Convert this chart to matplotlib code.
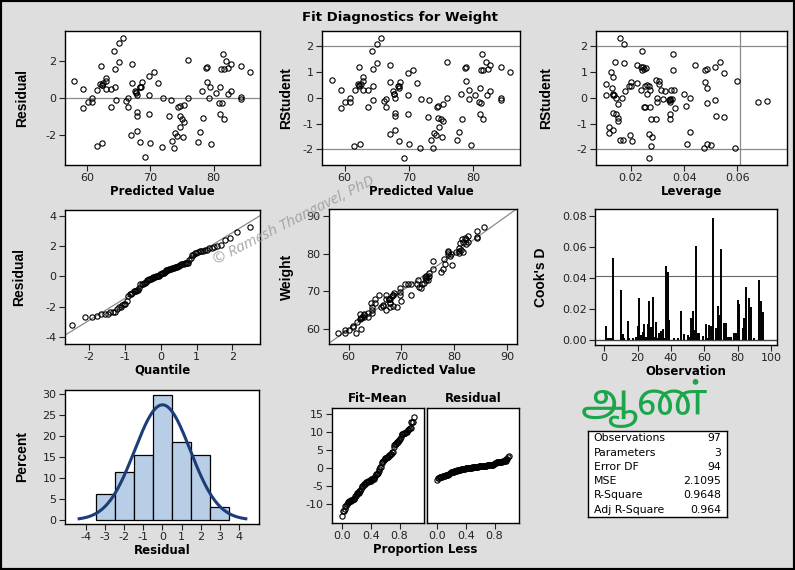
import numpy as np
import matplotlib
matplotlib.use("Agg")
import matplotlib.pyplot as plt
from matplotlib.patches import Rectangle
from statistics import NormalDist

# predicted value / residual for each of the 97 observations
pred = [58.0, 59.4, 59.4, 60.1, 60.8, 60.8, 61.6, 61.5, 62.4, 62.2,
        62.1, 62.3, 62.5, 62.9, 62.9, 62.9, 63.7, 63.7, 64.3, 64.4,
        64.4, 64.5, 65.1, 65.1, 65.7, 66.1, 66.5, 66.5, 67.1, 67.1,
        67.0, 67.6, 67.7, 67.8, 67.8, 67.8, 67.8, 68.3, 68.5, 68.6,
        68.4, 69.2, 69.8, 69.8, 69.8, 70.0, 70.6, 71.2, 71.9, 71.8,
        73.2, 73.0, 73.4, 73.7, 73.9, 74.2, 74.4, 74.6, 74.6, 74.7,
        75.0, 75.1, 75.3, 75.3, 75.9, 75.9, 77.5, 77.8, 78.1, 78.3,
        78.9, 78.9, 79.3, 79.4, 79.6, 80.3, 81.0, 81.0, 80.9, 81.3,
        81.2, 81.4, 81.6, 82.0, 82.2, 82.3, 82.7, 82.7, 84.3, 84.3,
        84.3, 85.7, 78.8, 81.6, 62.3, 67.7, 68.4]
resid = [0.92, 0.47, -0.52, -0.20, 0.02, -0.20, 0.43, -2.60, -2.46, 1.74,
         0.74, 0.70, 0.80, 1.10, 0.92, 0.47, 0.49, -0.50, 2.57, 1.60,
         0.60, -0.10, 2.97, 1.97, 3.29, -0.15, 0.02, -0.47, 1.85, 0.83,
         -2.03, 0.40, 0.25, 0.18, -0.76, -0.96, -1.80, 0.60, 0.58, 0.87,
         -2.37, -3.24, 1.21, 0.18, -0.87, -2.46, 1.43, 0.83, -0.02, -2.66,
         -0.10, -1.00, -2.33, -2.70, -1.92, -2.05, -0.50, -0.43, -1.00, -1.60,
         -1.16, -2.15, -0.36, -1.32, 2.05, 0.02, -2.37, -1.85, 0.38, -1.10,
         1.68, 0.87, -0.02, 0.58, -2.50, 0.25, 0.58, -0.89, -0.25, -0.25,
         1.57, 2.42, -1.14, 2.00, 0.22, 1.65, 1.85, 0.40, 1.74, 0.04,
         -0.05, 1.41, 1.66, 1.56, 0.72, 0.30, 0.60]

# leverage / RStudent pairs
leverage = [0.0105, 0.0105, 0.0116, 0.0116, 0.0126, 0.0131, 0.0129, 0.0132, 0.0132, 0.0131,
            0.0132, 0.0141, 0.0142, 0.0142, 0.0149, 0.0151, 0.0151, 0.0160, 0.0160, 0.0166,
            0.0170, 0.0175, 0.0175, 0.0179, 0.0191, 0.0195, 0.0199, 0.0201, 0.0204, 0.0221,
            0.0224, 0.0236, 0.0240, 0.0239, 0.0241, 0.0245, 0.0253, 0.0249, 0.0254, 0.0256,
            0.0259, 0.0259, 0.0266, 0.0266, 0.0269, 0.0271, 0.0273, 0.0274, 0.0279, 0.0276,
            0.0292, 0.0295, 0.0297, 0.0299, 0.0304, 0.0307, 0.0314, 0.0319, 0.0327, 0.0342,
            0.0345, 0.0348, 0.0347, 0.0347, 0.0352, 0.0354, 0.0358, 0.0358, 0.0360, 0.0367,
            0.0398, 0.0407, 0.0409, 0.0422, 0.0422, 0.0442, 0.0477, 0.0476, 0.0480, 0.0487,
            0.0487, 0.0485, 0.0487, 0.0502, 0.0515, 0.0515, 0.0521, 0.0536, 0.0549, 0.0549,
            0.0590, 0.0600, 0.0678, 0.0713, 0.0250, 0.0135, 0.0345]
rstudent = [0.54, 0.10, -1.13, -1.35, 0.99, 0.82, 0.39, 0.15, 0.09, -0.58,
            -1.26, 1.40, 0.00, -0.62, -0.77, -0.90, -0.23, 2.32, -1.65, 0.00,
            -1.65, 1.35, 2.06, 0.26, 0.44, -1.43, 0.59, 0.44, -1.67, 1.25,
            0.57, 0.31, 1.79, 1.18, 1.09, 1.17, 0.44, -0.36, -0.36, 1.14,
            0.15, 0.48, 0.44, -1.41, -2.32, 0.28, -0.36, -1.85, -1.52, -0.81,
            -0.81, 0.69, 0.00, -0.15, 0.54, 0.63, 0.28, -0.05, 0.26, -0.08,
            -0.05, -0.17, -0.62, -0.81, 0.31, -0.05, 1.70, 1.08, 0.31, -0.40,
            0.15, -0.31, -1.77, -0.01, -1.34, 1.25, 0.59, -1.94, 1.09, 1.12,
            0.39, -1.77, -0.19, -1.81, 1.20, -0.08, -0.69, 1.40, 0.96, -0.75,
            -1.94, 0.63, -0.17, -0.14, 1.12, 0.12, -0.10]

# Cook's D by observation number 1..97
cooks_d = [0.009, 0.0015, 0.001, 0.0015, 0.053, 0.0, 0.0, 0.0, 0.0, 0.032,
           0.004, 0.001, 0.0, 0.012, 0.001, 0.0, 0.001, 0.0, 0.002, 0.009,
           0.027, 0.003, 0.0055, 0.0105, 0.002, 0.0105, 0.025, 0.0085, 0.028, 0.002,
           0.0115, 0.001, 0.0045, 0.006, 0.007, 0.001, 0.048, 0.044, 0.013, 0.0,
           0.0, 0.0015, 0.0, 0.001, 0.0, 0.019, 0.0, 0.004, 0.0, 0.0035,
           0.002, 0.014, 0.0185, 0.0065, 0.0605, 0.0045, 0.0045, 0.0, 0.0025, 0.0,
           0.0105, 0.001, 0.0095, 0.009, 0.079, 0.0, 0.0075, 0.022, 0.016, 0.0585,
           0.0, 0.011, 0.011, 0.002, 0.002, 0.002, 0.0, 0.0045, 0.0045, 0.0255,
           0.023, 0.0, 0.0075, 0.0145, 0.0345, 0.0, 0.027, 0.021, 0.0, 0.001,
           0.0, 0.0, 0.0385, 0.025, 0.018, 0.0, 0.0]

hist_mid = [-3, -2, -1, 0, 1, 2, 3]
hist_pct = [6.19, 11.34, 15.46, 29.90, 18.56, 15.46, 3.09]

stat_names = ["Observations", "Parameters", "Error DF", "MSE", "R-Square", "Adj R-Square"]
stat_values = ["97", "3", "94", "2.1095", "0.9648", "0.964"]
mse = 2.1095
lev_cutoff = 0.061
cook_cutoff = 4 / 97

W, H = 795, 570
BG = "#dedede"
GRAY = "#8a8a8a"
NARROW = ["Liberation Sans Narrow", "Liberation Sans", "DejaVu Sans"]

plt.rcParams["font.family"] = "DejaVu Sans"
plt.rcParams["axes.unicode_minus"] = False

pred = np.array(pred)
resid = np.array(resid)
leverage = np.array(leverage)
rstudent = np.array(rstudent)
n = len(pred)

# RStudent follows the residual ranking, so pair them by rank for the predicted-value panel
rstud_obs = np.empty(n)
rstud_obs[np.argsort(resid)] = rstudent[np.argsort(rstudent)]

fig = plt.figure(figsize=(W / 100, H / 100), dpi=100, facecolor=BG)


def panel(l, t, r, b):
    ax = fig.add_axes([l / W, 1 - b / H, (r - l) / W, (b - t) / H])
    ax.tick_params(labelsize=8, length=4, width=0.8, colors="#222222", pad=2)
    for s in ax.spines.values():
        s.set_linewidth(1.0)
    return ax


def labels(ax, xl, yl, ypad=4):
    ax.set_xlabel(xl, fontsize=8.5, fontweight="bold", labelpad=1)
    ax.set_ylabel(yl, fontsize=10, fontweight="bold", family=NARROW, labelpad=ypad)


def dots(ax, x, y):
    ax.plot(x, y, "o", mfc="none", mec="black", ms=3.8, mew=0.8)


fig.text(400 / W, 1 - 17 / H, "Fit Diagnostics for Weight", ha="center", va="center",
         fontsize=9.5, fontweight="bold")

# residual vs predicted
ax = panel(65, 31, 260, 165)
ax.axhline(0, color=GRAY, lw=0.9)
dots(ax, pred, resid)
ax.set_xlim(56.5, 87.3)
ax.set_ylim(-3.65, 3.65)
ax.set_xticks([60, 70, 80])
ax.set_yticks([-2, 0, 2])
labels(ax, "Predicted Value", "Residual", 12)

# rstudent vs predicted
ax = panel(322, 31, 520, 165)
for v in (-2, 2):
    ax.axhline(v, color=GRAY, lw=0.9)
dots(ax, pred, rstud_obs)
ax.set_xlim(56.5, 87.3)
ax.set_ylim(-2.6, 2.58)
ax.set_xticks([60, 70, 80])
ax.set_yticks([-2, -1, 0, 1, 2])
labels(ax, "Predicted Value", "RStudent", 7)

# rstudent vs leverage
ax = panel(596, 31, 787, 165)
for v in (-2, 2):
    ax.axhline(v, color=GRAY, lw=0.9)
ax.axvline(lev_cutoff, color=GRAY, lw=0.9)
dots(ax, leverage, rstudent)
ax.set_xlim(0.0068, 0.0787)
ax.set_ylim(-2.6, 2.58)
ax.set_xticks([0.02, 0.04, 0.06])
ax.set_yticks([-2, -1, 0, 1, 2])
labels(ax, "Leverage", "RStudent", 17)

# normal quantile plot
ax = panel(65, 210, 260, 344)
quant = [NormalDist().inv_cdf((i - 0.375) / (n + 0.25)) for i in range(1, n + 1)]
xl = np.array([-2.75, 2.8])
ax.plot(xl, np.sqrt(mse) * xl, color=GRAY, lw=0.9)
dots(ax, quant, np.sort(resid))
ax.set_xlim(-2.68, 2.77)
ax.set_ylim(-4.48, 4.4)
ax.set_xticks([-2, -1, 0, 1, 2])
ax.set_yticks([-4, -2, 0, 2, 4])
labels(ax, "Quantile", "Residual", 14)

# observed vs predicted
ax = panel(329, 209, 517, 344)
ax.plot([56, 92], [56, 92], color=GRAY, lw=0.9)
dots(ax, pred, pred + resid)
ax.set_xlim(56.3, 91.9)
ax.set_ylim(56.1, 91.8)
ax.set_xticks([60, 70, 80, 90])
ax.set_yticks([60, 70, 80, 90])
labels(ax, "Predicted Value", "Weight", 9)

# Cook's D
ax = panel(595, 209, 777, 345)
obs = np.arange(1, n + 1)
ax.axhline(0, color="#444444", lw=1.0)
ax.axhline(cook_cutoff, color="#666666", lw=0.8)
ax.vlines(obs, 0, cooks_d, color="black", lw=1.4)
ax.set_xlim(-5.5, 103.5)
ax.set_ylim(-0.0032, 0.0845)
ax.set_xticks([0, 20, 40, 60, 80, 100])
ax.set_yticks([0, 0.02, 0.04, 0.06, 0.08])
ax.yaxis.set_major_formatter(matplotlib.ticker.FormatStrFormatter("%.2f"))
labels(ax, "Observation", "Cook's D", 10)

# residual histogram with normal curve
ax = panel(65, 390, 259, 524)
ax.bar(hist_mid, hist_pct, width=1.0, color="#b8cde6", edgecolor="black", lw=0.9)
xs = np.linspace(-4.36, 4.36, 200)
ax.plot(xs, [100 * NormalDist(0, np.sqrt(mse)).pdf(v) for v in xs], color="#1c3d78", lw=2.2)
ax.set_xlim(-5.1, 5.05)
ax.set_ylim(-0.95, 31)
ax.set_xticks(range(-4, 5))
ax.set_yticks(range(0, 31, 5))
labels(ax, "Residual", "Percent", 10)

# residual-fit spread plot
prop = (np.arange(1, n + 1) - 0.5) / n
axl = panel(332, 408, 424, 523)
axr = panel(427, 408, 519, 523)
dots(axl, prop, np.sort(pred - pred.mean()))
dots(axr, prop, np.sort(resid))
for a, t in ((axl, "Fit\u2013Mean"), (axr, "Residual")):
    a.set_ylim(-15.4, 16.8)
    a.set_xlim(-0.14, 1.14)
    a.set_xticks([0.0, 0.4, 0.8])
    a.xaxis.set_major_formatter(matplotlib.ticker.FormatStrFormatter("%.1f"))
    a.set_title(t, fontsize=8.5, fontweight="bold", pad=4)
axl.set_yticks([-10, -5, 0, 5, 10, 15])
axr.set_yticks([])
fig.text(425 / W, 1 - 550 / H, "Proportion Less", ha="center", va="center",
         fontsize=8.5, fontweight="bold")

# fit statistics box
ax = panel(588, 431, 727, 517)
ax.set_xticks([])
ax.set_yticks([])
for i, (nm, v) in enumerate(zip(stat_names, stat_values)):
    y = 1 - (i + 0.5) / len(stat_names)
    ax.text(0.04, y, nm, transform=ax.transAxes, va="center", fontsize=7.8)
    ax.text(0.96, y, v, transform=ax.transAxes, va="center", ha="right", fontsize=7.8)

fig.text(645 / W, 1 - 403 / H, "\u0b86\u0ba3\u0bcd", ha="center", va="center",
         fontsize=31, fontweight="bold", color="#1ba64c",
         family=["Noto Sans Tamil", "Lohit Tamil", "DejaVu Sans"])

fig.text(294 / W, 1 - 221 / H, "\u00a9 Ramesh Thangavel, PhD", ha="center", va="center",
         rotation=27, fontsize=11, style="italic", color="#9a9a9a", alpha=0.85,
         family=["Open Sans", "DejaVu Sans"])

fig.patches.append(Rectangle((0, 0), 1, 1, transform=fig.transFigure, fill=False,
                             edgecolor="black", lw=3))

fig.savefig("out.png", dpi=100, facecolor=BG)
